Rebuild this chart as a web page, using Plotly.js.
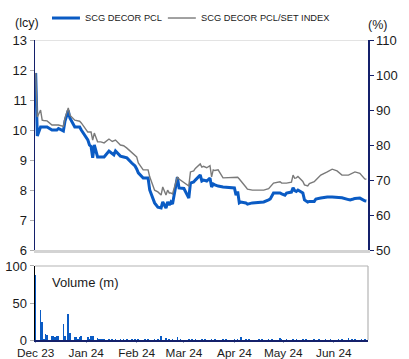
<!DOCTYPE html>
<html>
<head>
<meta charset="utf-8">
<script src="https://cdn.plot.ly/plotly-3.0.1.min.js"></script>
<style>html,body{margin:0;padding:0;background:#fff;}#chart{width:409px;height:359px;}</style>
</head>
<body>
<div id="chart"></div>
<script>
const dates = ['2023-12-01','2023-12-02','2023-12-04','2023-12-05','2023-12-06','2023-12-08','2023-12-11','2023-12-14','2023-12-15','2023-12-18','2023-12-19','2023-12-21','2023-12-22','2023-12-25','2023-12-28','2023-12-29','2024-01-02','2024-01-03','2024-01-04','2024-01-05','2024-01-06','2024-01-08','2024-01-10','2024-01-12','2024-01-15','2024-01-17','2024-01-18','2024-01-19','2024-01-22','2024-01-24','2024-01-26','2024-01-29','2024-01-31','2024-02-01','2024-02-02','2024-02-05','2024-02-08','2024-02-09','2024-02-12','2024-02-14','2024-02-16','2024-02-17','2024-02-19','2024-02-20','2024-02-21','2024-02-22','2024-02-23','2024-02-26','2024-02-27','2024-03-01','2024-03-04','2024-03-05','2024-03-07','2024-03-08','2024-03-11','2024-03-12','2024-03-13','2024-03-15','2024-03-17','2024-03-18','2024-03-19','2024-03-20','2024-03-22','2024-03-25','2024-03-29','2024-04-01','2024-04-02','2024-04-03','2024-04-04','2024-04-05','2024-04-08','2024-04-09','2024-04-12','2024-04-17','2024-04-19','2024-04-22','2024-04-23','2024-04-25','2024-04-29','2024-04-30','2024-05-02','2024-05-03','2024-05-06','2024-05-07','2024-05-08','2024-05-09','2024-05-10','2024-05-13','2024-05-14','2024-05-16','2024-05-17','2024-05-20','2024-05-21','2024-05-24','2024-05-28','2024-05-31','2024-06-03','2024-06-06','2024-06-10','2024-06-11','2024-06-13','2024-06-14','2024-06-17','2024-06-19','2024-06-20','2024-06-21'];
const price = [11.90,9.80,10.10,10.10,10.10,10.10,10.00,10.00,10.05,9.97,10.30,10.65,10.40,10.10,10.10,10.00,9.67,9.50,9.45,9.07,9.50,9.10,9.10,9.10,9.30,9.20,9.17,9.30,9.13,9.10,9.07,8.90,8.80,8.70,8.57,8.40,8.40,8.00,7.57,7.43,7.40,7.60,7.40,7.60,7.50,7.60,7.53,8.43,8.07,8.05,7.73,8.23,8.27,8.33,8.50,8.30,8.33,8.30,8.40,8.10,8.20,8.17,8.13,8.10,8.07,8.07,7.83,7.95,7.57,7.60,7.57,7.53,7.57,7.60,7.60,7.67,7.70,7.90,7.90,7.87,7.83,7.90,7.93,8.07,7.98,7.95,8.00,7.90,7.67,7.60,7.62,7.62,7.70,7.73,7.77,7.77,7.76,7.74,7.68,7.67,7.70,7.72,7.73,7.66,7.64,7.63];
const relative = [100.6,88.0,90.0,87.1,87.0,86.9,85.7,85.7,85.7,85.3,87.7,90.6,88.5,87.1,86.8,86.3,83.7,83.7,83.7,81.4,83.4,80.9,80.9,80.6,81.7,81.0,81.2,81.4,80.0,79.8,79.1,77.7,77.0,76.6,74.9,72.9,72.9,70.9,67.1,66.6,65.7,68.0,65.7,67.1,66.3,66.3,66.0,70.9,70.3,69.4,68.3,72.3,72.6,73.3,74.6,73.7,73.9,73.5,74.1,70.9,72.9,72.7,72.9,70.6,70.6,70.6,70.6,70.8,70.3,69.8,68.0,67.4,67.1,67.1,67.1,67.5,68.0,69.1,69.5,69.1,69.1,69.1,69.4,71.4,70.5,70.6,71.0,69.6,68.6,68.3,69.0,69.5,70.0,71.4,72.3,73.1,72.6,71.4,71.4,71.6,71.9,72.3,71.9,71.0,70.3,70.2];

const volDates = ['2023-12-01','2023-12-04','2023-12-05','2023-12-06','2023-12-07','2023-12-08','2023-12-11','2023-12-12','2023-12-13','2023-12-14','2023-12-15','2023-12-18','2023-12-19','2023-12-21','2023-12-22','2023-12-25','2023-12-26','2023-12-27','2023-12-28','2023-12-29','2024-01-02','2024-01-03','2024-01-04','2024-01-05','2024-01-08','2024-01-09','2024-01-10','2024-01-11','2024-01-12','2024-01-15','2024-01-17','2024-01-19','2024-01-22','2024-01-24','2024-01-26','2024-01-29','2024-01-31','2024-02-02','2024-02-06','2024-02-08','2024-02-12','2024-02-14','2024-02-16','2024-02-19','2024-02-21','2024-02-23','2024-02-26','2024-02-28','2024-03-04','2024-03-06','2024-03-08','2024-03-12','2024-03-14','2024-03-18','2024-03-20','2024-03-25','2024-03-27','2024-04-01','2024-04-03','2024-04-05','2024-04-08','2024-04-10','2024-04-16','2024-04-18','2024-04-22','2024-04-24','2024-04-29','2024-04-30','2024-05-03','2024-05-07','2024-05-09','2024-05-13','2024-05-15','2024-05-20','2024-05-23','2024-05-27','2024-05-30','2024-06-04','2024-06-06','2024-06-10','2024-06-12','2024-06-14','2024-06-18','2024-06-20'];
const volume = [88,40,24,2,8.5,7,5,5,4,5,6,22,5,35,9,4,4.5,1.5,4,6,4,2,5.5,5.5,3,2,1.5,2,1.5,2,1,1.5,1.5,1,1.2,1,1.5,1.2,1,2,1.5,1.5,5.5,2.5,1.5,1.5,3.5,1.5,1.5,2,1.5,1.5,1,1.5,1,1,1,1,1,4.5,2,1.5,1,1,1,1,2.5,1.5,1,1.5,2,1,1,1,1,1,1,1,1,2.5,1,1,1,1];

const seriesNames = ['SCG DECOR PCL','SCG DECOR PCL/SET INDEX'];
const monthTicks = ['2023-12-01','2024-01-01','2024-02-01','2024-03-01','2024-04-01','2024-05-01','2024-06-01'];
const monthLabels = ['Dec 23','Jan 24','Feb 24','Mar 24','Apr 24','May 24','Jun 24'];

const BLUE = '#0a5bc4';
const GRAY = '#7a7a7a';
const NAVY = '#14206b';
const FONT = 'Arial, "Liberation Sans", sans-serif';
const xRange = ['2023-11-30 14:00','2024-06-22 00:00'];

const traces = [
  {x: dates, y: relative, name: seriesNames[1], type:'scatter', mode:'lines',
   line:{color:GRAY, width:1.4}, xaxis:'x2', yaxis:'y2'},
  {x: dates, y: price, name: seriesNames[0], type:'scatter', mode:'lines',
   line:{color:BLUE, width:3}, xaxis:'x2', yaxis:'y'},
  {x: volDates, y: volume, name:'Volume', type:'bar', marker:{color:BLUE, line:{width:0}},
   xaxis:'x', yaxis:'y3'}
];

const legY = 1.0733;
const layout = {
  width:409, height:359,
  margin:{l:35, r:41, t:40, b:19, autoexpand:false},
  paper_bgcolor:'#fff', plot_bgcolor:'rgba(0,0,0,0)',
  font:{family:FONT, size:13, color:'#1a1a1a'},
  bargap:0,
  showlegend:false,
  xaxis:{domain:[0,1], anchor:'y3', type:'date', range:xRange,
         tickvals:monthTicks, ticktext:monthLabels, tickfont:{size:11.8},
         showline:true, linecolor:NAVY, linewidth:2, ticks:'outside', ticklen:1, tickwidth:1,
         tickcolor:'#9aa6c8', showgrid:false, zeroline:false, ticklabelstandoff:0},
  xaxis2:{domain:[0,1], anchor:'y', matches:'x', type:'date', range:xRange,
          showticklabels:false, ticks:'', showline:true, linecolor:'#d3d3d3', linewidth:3,
          showgrid:false, zeroline:false},
  yaxis:{domain:[0.3,1], anchor:'x2', range:[6,13], dtick:1, tick0:6,
         showline:true, linecolor:NAVY, linewidth:1.5, ticks:'outside', ticklen:4, tickwidth:1,
         tickcolor:'#b0b0b0', showgrid:false, zeroline:false, tickfont:{size:13}},
  yaxis2:{overlaying:'y', side:'right', anchor:'x2', range:[50,110], dtick:10, tick0:50,
          showline:true, linecolor:NAVY, linewidth:1.5, ticks:'outside', ticklen:4, tickwidth:1,
          tickcolor:NAVY, showgrid:false, zeroline:false, tickfont:{size:13}},
  yaxis3:{domain:[0,0.2467], anchor:'x', range:[0,100], tickvals:[0,50,100],
          showline:true, linecolor:'#000', linewidth:1.5, ticks:'outside', ticklen:4, tickwidth:1,
          tickcolor:'#b0b0b0', showgrid:false, zeroline:false, tickfont:{size:13}},
  shapes:[
    {type:'line', xref:'x2 domain', yref:'y', x0:0, x1:1, y0:13, y1:13,
     line:{color:'#c8c8c8', width:1.2}},
    {type:'line', xref:'x domain', yref:'y3 domain', x0:0, x1:1, y0:1, y1:1,
     line:{color:'#b4b4b4', width:1.2}},
    {type:'line', xref:'x domain', yref:'y3 domain', x0:1, x1:1, y0:0, y1:1,
     line:{color:'#b4b4b4', width:1.2}},
    {type:'line', xref:'paper', yref:'paper', x0:0.051, x1:0.135, y0:legY, y1:legY,
     line:{color:BLUE, width:3}},
    {type:'line', xref:'paper', yref:'paper', x0:0.399, x1:0.483, y0:legY, y1:legY,
     line:{color:GRAY, width:1.4}}
  ],
  annotations:[
    {text:seriesNames[0], xref:'paper', yref:'paper', x:0.143, y:legY, xanchor:'left', yanchor:'middle',
     showarrow:false, font:{size:9.3}},
    {text:seriesNames[1], xref:'paper', yref:'paper', x:0.491, y:legY, xanchor:'left', yanchor:'middle',
     showarrow:false, font:{size:9.3}},
    {text:'(lcy)', xref:'paper', yref:'paper', x:-0.024, y:1.058, xanchor:'center', yanchor:'middle',
     showarrow:false, font:{size:12.5}},
    {text:'(%)', xref:'paper', yref:'paper', x:1.03, y:1.05, xanchor:'center', yanchor:'middle',
     showarrow:false, font:{size:12.5}},
    {text:'Volume (m)', xref:'x domain', yref:'y3 domain', x:0.045, y:0.78, xanchor:'left', yanchor:'middle',
     showarrow:false, font:{size:13}}
  ]
};

Plotly.newPlot('chart', traces, layout, {displayModeBar:false, staticPlot:true});
</script>
</body>
</html>
